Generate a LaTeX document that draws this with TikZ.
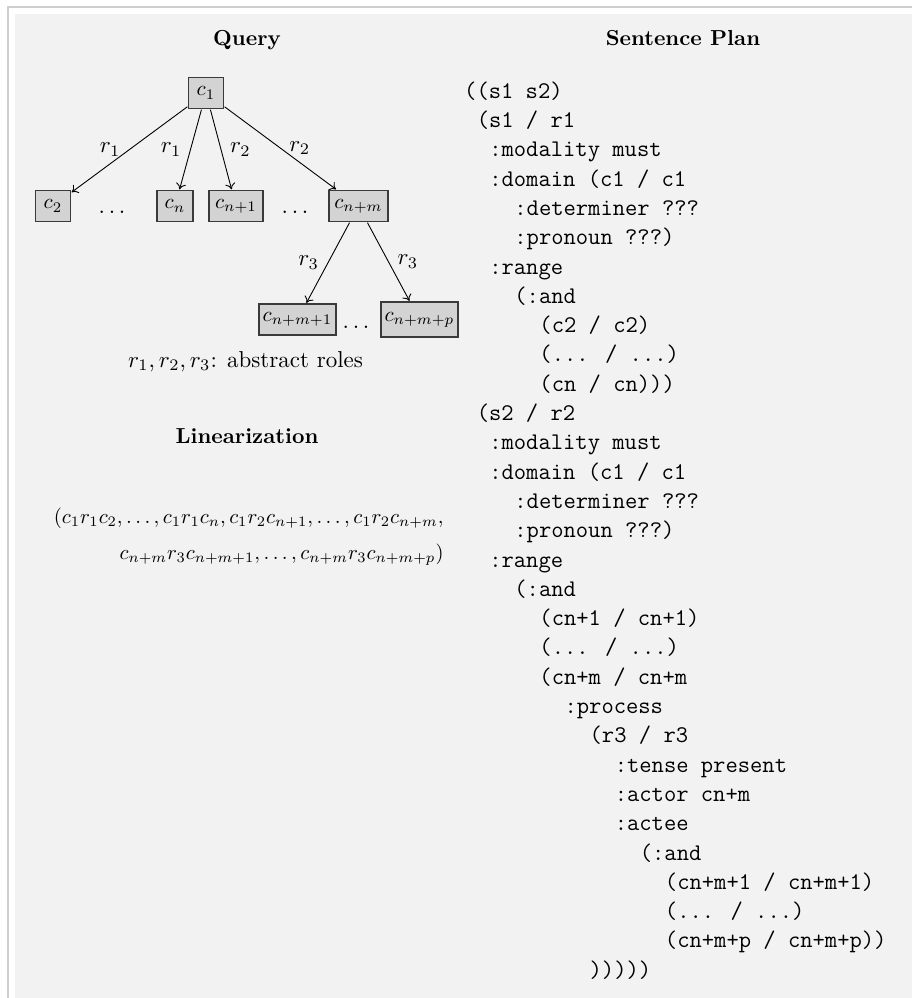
\RequirePackage{fix-cm}
\documentclass[tikz,border=0pt]{standalone}
\usetikzlibrary{arrows.meta}

\definecolor{panelgray}{HTML}{F2F2F2}
\definecolor{framegray}{HTML}{CFCFCF}
\definecolor{boxfill}{HTML}{D3D3D3}
\definecolor{boxline}{HTML}{3A3A3A}

% indentation in the monospaced plan, counted in character cells
\newcommand\tind[1]{\hspace*{#1\dimexpr0.525em\relax}}

% serif text is set at 10pt and enlarged as a whole
\newcommand\txtscale{2.3}
\newcommand\treescale{2.1}
\newcommand\formscale{2.07}
\newcommand\headscale{2.17}

\tikzset{
  serif/.style={font=\fontsize{10}{12}\selectfont, scale=\txtscale},
  heading/.style={font=\fontsize{10}{12}\selectfont\bfseries, scale=\headscale,
                  anchor=base, inner sep=0pt},
  concept/.style={font=\fontsize{10}{12}\selectfont, scale=\treescale,
                  draw=boxline, fill=boxfill, line width=1.1pt,
                  minimum height={31pt/\treescale}, inner xsep=1pt, inner ysep=1pt},
  wd/.style={minimum width={#1pt/\treescale}},
  rel/.style={-{To[length=6pt,width=10pt]}, line width=0.9pt},
  role/.style={serif, inner xsep={8pt/\txtscale}, inner ysep=1pt},
  gap/.style={serif, anchor=base, inner sep=0pt},
  formula/.style={font=\fontsize{10}{12}\selectfont, scale=\formscale,
                  anchor=base east, inner sep=0pt},
  code/.style={font=\fontsize{23.9}{29.3}\selectfont\ttfamily, align=left, inner sep=0pt}
}

\begin{document}
\begin{tikzpicture}[x=1pt,y=-1pt]
\useasboundingbox (0,0) rectangle (912,998);

% frame and panel
\fill[panelgray] (15,14) rectangle (912,998);
\draw[framegray, line width=1.5pt] (8,998) -- (8,7) -- (912,7);

% headings
\node[heading] (hquery) at (247,45.5) {Query};
\node[heading] (hplan) at (683,45.5) {Sentence Plan};
\node[heading] (hlin) at (247,443) {Linearization};

% query tree
\node[concept, wd=35] (c1) at (206,93) {$c_1$};
\node[concept, wd=35] (c2) at (53,206) {$c_2$};
\node[concept, wd=36] (cn) at (175,206) {$c_n$};
\node[concept, wd=54] (cn1) at (236,206) {$c_{n+1}$};
\node[concept, wd=59] (cnm) at (358.5,206) {$c_{n+m}$};
\node[concept, wd=77] (cnm1) at (297.5,319.5) {$c_{n+m+1}$};
\node[concept, wd=77, minimum height={35pt/\treescale}] (cnmp) at (419.5,319.5) {$c_{n+m+p}$};

\node[gap] (dots1) at (112,213) {$\ldots$};
\node[gap] (dots2) at (295,213) {$\ldots$};
\node[gap] (dots3) at (356,328) {$\ldots$};

\draw[rel] (c1) -- node[role, left] {$r_1$} (c2);
\draw[rel] (c1) -- node[role, left] {$r_1$} (cn);
\draw[rel] (c1) -- node[role, right] {$r_2$} (cn1);
\draw[rel] (c1) -- node[role, right] {$r_2$} (cnm);
\draw[rel] (cnm) -- node[role, left] {$r_3$} (cnm1);
\draw[rel] (cnm) -- node[role, right] {$r_3$} (cnmp);

\node[serif, anchor=base, inner sep=0pt] (legend) at (245.5,367)
  {$r_1, r_2, r_3$: abstract roles};

% linearization
\node[formula] (lin1) at (444,523)
  {$(c_1r_1c_2,\ldots,c_1r_1c_n,c_1r_2c_{n+1},\ldots,c_1r_2c_{n+m},$};
\node[formula] (lin2) at (444,559)
  {$c_{n+m}r_3c_{n+m+1},\ldots,c_{n+m}r_3c_{n+m+p})$};

% sentence plan
\node[code, anchor=north west] (plan) at (464,81.5) {%
((s1 s2)\\
\tind{1}(s1 / r1\\
\tind{2}:modality must\\
\tind{2}:domain (c1 / c1\\
\tind{4}:determiner ???\\
\tind{4}:pronoun ???)\\
\tind{2}:range\\
\tind{4}(:and\\
\tind{6}(c2 / c2)\\
\tind{6}(... / ...)\\
\tind{6}(cn / cn)))\\
\tind{1}(s2 / r2\\
\tind{2}:modality must\\
\tind{2}:domain (c1 / c1\\
\tind{4}:determiner ???\\
\tind{4}:pronoun ???)\\
\tind{2}:range\\
\tind{4}(:and\\
\tind{6}(cn+1 / cn+1)\\
\tind{6}(... / ...)\\
\tind{6}(cn+m / cn+m\\
\tind{8}:process\\
\tind{10}(r3 / r3\\
\tind{12}:tense present\\
\tind{12}:actor cn+m\\
\tind{12}:actee\\
\tind{14}(:and\\
\tind{16}(cn+m+1 / cn+m+1)\\
\tind{16}(... / ...)\\
\tind{16}(cn+m+p / cn+m+p))\\
\tind{10})))))};
\end{tikzpicture}
\end{document}
